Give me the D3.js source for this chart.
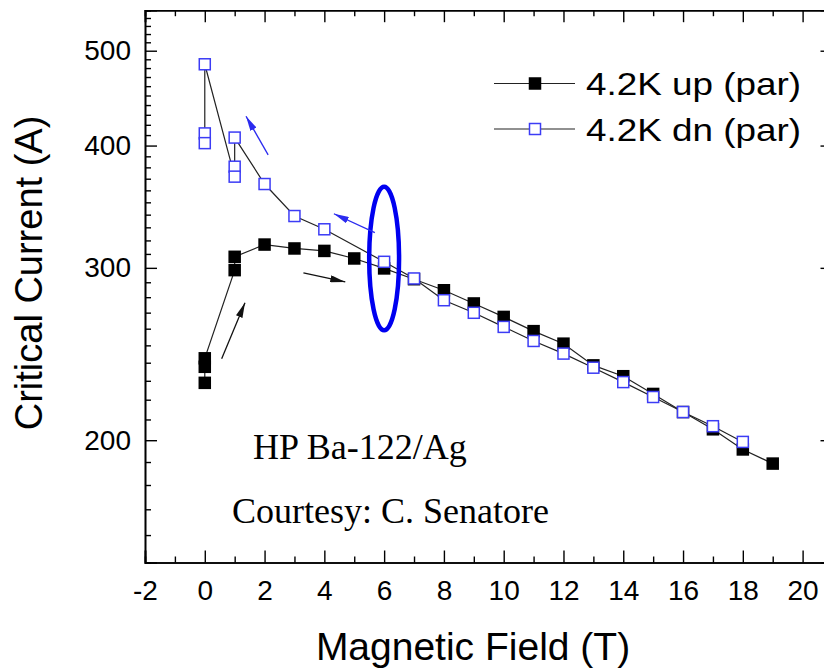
<!DOCTYPE html>
<html>
<head>
  <meta charset="utf-8">
  <title>Critical Current vs Field</title>
  <script src="https://cdn.jsdelivr.net/npm/d3@7"></script>
  <style>
    body { margin: 0; background: #fff; }
    svg { display: block; }
  </style>
</head>
<body>
  <script>
    // canvas
    const w = 824;
    const h = 670;

    // data: up sweep (field order as measured)
    const upField = [0, 0, 0, 1, 1, 2, 3, 4, 5, 6, 7, 8, 9, 10, 11, 12, 13, 14, 15, 16, 17, 18, 19];
    const upCurrent = [228.9, 237.7, 242.5, 298.4, 307.9, 316.9, 314.0, 312.2, 306.7, 299.6, 292.1, 284.6,
      275.9, 267.3, 258.5, 251.0, 238.5, 232.5, 223.0, 213.7, 205.2, 195.7, 189.3];

    // down sweep
    const dnField = [18, 17, 16, 15, 14, 13, 12, 11, 10, 9, 8, 7, 6, 4, 3, 2, 1, 1, 1, 0, 0, 0];
    const dnCurrent = [199.2, 206.7, 213.7, 221.4, 229.3, 237.2, 245.2, 252.6, 261.1, 269.9, 278.0, 292.6,
      304.3, 328.5, 338.9, 365.4, 407.6, 380.6, 371.8, 484.3, 411.6, 402.3];

    const seriesNames = ["4.2K up (par)", "4.2K dn (par)"];

    // ticks
    const xMajor = [-2, 0, 2, 4, 6, 8, 10, 12, 14, 16, 18, 20];
    const xMinor = [-1, 1, 3, 5, 7, 9, 11, 13, 15, 17, 19, 21];
    const yMajor = [200, 300, 400, 500];
    const yMinor = d3.range(150, 551, 10).filter(v => v % 100 !== 0);

    // annotations (data units)
    const arrowFrom = [[0.565, 242.3], [3.30, 296.5], [2.12, 391.4], [5.69, 325.9]];
    const arrowTo = [[1.345, 276.3], [4.70, 290.2], [1.38, 428.6], [4.32, 340.7]];
    const arrowKind = ["black", "black", "blue", "blue"];
    const ringField = 6, ringHalf = 0.5, ringTop = 363, ringBottom = 259;
    const notes = ["HP Ba-122/Ag", "Courtesy: C. Senatore"];

    // scales
    const x = d3.scaleLinear().domain([-2, 21]).range([145, 832.5]);
    const y = d3.scaleLog().domain([150, 550]).range([562.5, 10.2]);

    const svg = d3.select("body").append("svg")
      .attr("width", w)
      .attr("height", h)
      .style("font-family", "'Liberation Sans', Arial, sans-serif");

    const defs = svg.append("defs");
    const headColor = { black: "#111", blue: "#2b2bef" };
    Object.keys(headColor).forEach(k => {
      defs.append("marker")
        .attr("id", "head-" + k)
        .attr("markerUnits", "userSpaceOnUse")
        .attr("viewBox", "0 0 15 7")
        .attr("markerWidth", 15)
        .attr("markerHeight", 7)
        .attr("refX", 15)
        .attr("refY", 3.5)
        .attr("orient", "auto")
        .append("path")
        .attr("d", "M0,0 L15,3.5 L0,7 Z")
        .attr("fill", headColor[k]);
    });

    // axes (ticks inward on all four sides)
    const x0 = x.range()[0], x1 = x.range()[1];
    const y0 = y.range()[0], y1 = y.range()[1];
    const plain = d => String(d); // hyphen minus like the original

    function styleAxis(g) {
      g.select(".domain").attr("stroke", "#000").attr("stroke-width", 1.6);
      g.selectAll(".tick line").attr("stroke", "#000").attr("stroke-width", 1.4);
    }

    // minor ticks
    svg.append("g").attr("transform", `translate(0,${y0})`)
      .call(d3.axisBottom(x).tickValues(xMinor).tickSize(-6).tickFormat(""))
      .call(styleAxis);
    svg.append("g").attr("transform", `translate(0,${y1})`)
      .call(d3.axisTop(x).tickValues(xMinor).tickSize(-6).tickFormat(""))
      .call(styleAxis);
    svg.append("g").attr("transform", `translate(${x0},0)`)
      .call(d3.axisLeft(y).tickValues(yMinor).tickSize(-6).tickFormat(""))
      .call(styleAxis);
    svg.append("g").attr("transform", `translate(${x1},0)`)
      .call(d3.axisRight(y).tickValues(yMinor).tickSize(-6).tickFormat(""))
      .call(styleAxis);

    // major ticks
    svg.append("g").attr("transform", `translate(0,${y0})`)
      .call(d3.axisBottom(x).tickValues(xMajor).tickSize(-12).tickPadding(18).tickFormat(plain))
      .call(styleAxis)
      .selectAll("text").attr("font-size", 28).attr("fill", "#000").style("font-family", "'Liberation Sans', Arial, sans-serif");
    svg.append("g").attr("transform", `translate(0,${y1})`)
      .call(d3.axisTop(x).tickValues(xMajor).tickSize(-12).tickFormat(""))
      .call(styleAxis);
    svg.append("g").attr("transform", `translate(${x0},0)`)
      .call(d3.axisLeft(y).tickValues(yMajor).tickSize(-12).tickPadding(14).tickFormat(plain))
      .call(styleAxis)
      .selectAll("text").attr("font-size", 28).attr("fill", "#000").style("font-family", "'Liberation Sans', Arial, sans-serif");
    svg.append("g").attr("transform", `translate(${x1},0)`)
      .call(d3.axisRight(y).tickValues(yMajor).tickSize(-12).tickFormat(""))
      .call(styleAxis);

    // axis titles
    svg.append("text")
      .attr("x", 473).attr("y", 660)
      .attr("text-anchor", "middle")
      .attr("font-size", 39)
      .text("Magnetic Field (T)");
    svg.append("text")
      .attr("transform", "translate(42,273) rotate(-90)")
      .attr("text-anchor", "middle")
      .attr("font-size", 38)
      .text("Critical Current (A)");

    // series
    const up = upField.map((f, i) => [f, upCurrent[i]]);
    const dn = dnField.map((f, i) => [f, dnCurrent[i]]);
    const line = d3.line().x(d => x(d[0])).y(d => y(d[1]));
    const ms = 12.5;

    svg.append("path").datum(up)
      .attr("d", line).attr("fill", "none").attr("stroke", "#222").attr("stroke-width", 1.2);
    svg.selectAll("rect.up").data(up).enter().append("rect")
      .attr("class", "up")
      .attr("x", d => x(d[0]) - ms / 2)
      .attr("y", d => y(d[1]) - ms / 2)
      .attr("width", ms).attr("height", ms)
      .attr("fill", "#000");

    svg.append("path").datum(dn)
      .attr("d", line).attr("fill", "none").attr("stroke", "#222").attr("stroke-width", 1.2);
    svg.selectAll("rect.dn").data(dn).enter().append("rect")
      .attr("class", "dn")
      .attr("x", d => x(d[0]) - ms / 2 + 0.75)
      .attr("y", d => y(d[1]) - ms / 2 + 0.75)
      .attr("width", ms - 1.5).attr("height", ms - 1.5)
      .attr("fill", "#fff")
      .attr("stroke", "#3c3cf5")
      .attr("stroke-width", 1.5);

    // annotations
    svg.append("ellipse")
      .attr("cx", x(ringField))
      .attr("cy", (y(ringTop) + y(ringBottom)) / 2)
      .attr("rx", x(ringField + ringHalf) - x(ringField))
      .attr("ry", (y(ringBottom) - y(ringTop)) / 2)
      .attr("fill", "none")
      .attr("stroke", "#0000f0")
      .attr("stroke-width", 4.5);

    arrowFrom.forEach((a, i) => {
      const b = arrowTo[i];
      svg.append("line")
        .attr("x1", x(a[0])).attr("y1", y(a[1]))
        .attr("x2", x(b[0])).attr("y2", y(b[1]))
        .attr("stroke", headColor[arrowKind[i]])
        .attr("stroke-width", 1.3)
        .attr("marker-end", `url(#head-${arrowKind[i]})`);
    });

    svg.append("text")
      .attr("x", 253).attr("y", 459)
      .attr("font-size", 36)
      .style("font-family", "'Liberation Serif', 'Times New Roman', serif")
      .text(notes[0]);
    svg.append("text")
      .attr("x", 232).attr("y", 523)
      .attr("font-size", 36)
      .style("font-family", "'Liberation Serif', 'Times New Roman', serif")
      .text(notes[1]);

    // legend
    const legY = [83.5, 129];
    const legend = svg.append("g");
    seriesNames.forEach((name, i) => {
      legend.append("line")
        .attr("x1", 494).attr("x2", 575)
        .attr("y1", legY[i]).attr("y2", legY[i])
        .attr("stroke", "#222").attr("stroke-width", 1.2);
      const r = legend.append("rect")
        .attr("x", 535 - ms / 2 + (i ? 0.75 : 0))
        .attr("y", legY[i] - ms / 2 + (i ? 0.75 : 0))
        .attr("width", i ? ms - 1.5 : ms)
        .attr("height", i ? ms - 1.5 : ms);
      if (i) r.attr("fill", "#fff").attr("stroke", "#3c3cf5").attr("stroke-width", 1.5);
      else r.attr("fill", "#000");
      legend.append("text")
        .attr("x", 586).attr("y", legY[i] + 11.5)
        .attr("font-size", 32)
        .attr("textLength", 215)
        .attr("lengthAdjust", "spacingAndGlyphs")
        .text(name);
    });
  </script>
</body>
</html>
